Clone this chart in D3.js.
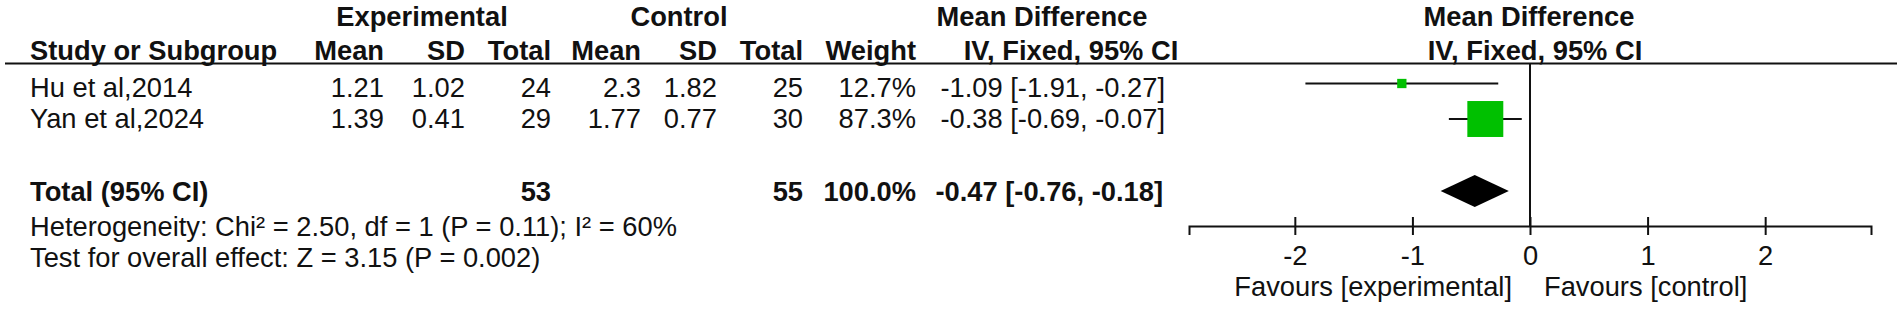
<!DOCTYPE html>
<html>
<head>
<meta charset="utf-8">
<script src="https://cdn.jsdelivr.net/npm/d3@7"></script>
<style>
  body { margin: 0; background: #fff; }
  svg text { font-family: "Liberation Sans", Arial, sans-serif; font-size: 27.3px; fill: #111; }
  .b { font-weight: bold; }
</style>
</head>
<body>
<div id="forest"></div>
<script>
// study rows
const studies = ["Hu et al,2014", "Yan et al,2024"];
const expMean = [1.21, 1.39];
const expSD = [1.02, 0.41];
const expN = [24, 29];
const ctlMean = [2.3, 1.77];
const ctlSD = [1.82, 0.77];
const ctlN = [25, 30];
const weights = [12.7, 87.3];
const md = [-1.09, -0.38];
const ciLow = [-1.91, -0.69];
const ciHigh = [-0.27, -0.07];

// pooled result
const totalLabel = "Total (95% CI)";
const totalN = [53, 55];
const totalWeight = 100.0;
const totalMd = [-0.47, -0.76, -0.18];
const footNotes = [
  "Heterogeneity: Chi\u00b2 = 2.50, df = 1 (P = 0.11); I\u00b2 = 60%",
  "Test for overall effect: Z = 3.15 (P = 0.002)"
];

// axis
const axisTicks = [-2, -1, 0, 1, 2];
const axisDomain = [-2.9, 2.9];
const favours = ["Favours [experimental]", "Favours [control]"];

const W = 1902, H = 309;

const svg = d3.select("#forest")
  .append("svg")
  .attr("width", W)
  .attr("height", H)
  .attr("viewBox", [0, 0, W, H]);

// column right edges for the table part
const cols = {
  name: 30, expMean: 384, expSD: 465, expN: 551,
  ctlMean: 641, ctlSD: 717, ctlN: 803, weight: 916, ci: 1165
};

// scales
const x = d3.scaleLinear().domain(axisDomain).range([1189, 1871]);
const rowY = d3.scaleLinear().domain([0, 1]).range([97, 127.5]);     // text baselines
const markY = d3.scaleLinear().domain([0, 1]).range([83.5, 119]);    // CI line / box centre
const boxSize = d3.scaleLinear().domain([0, 100]).range([4.75, 40.5]);

// plain hyphen like the reference, not the unicode minus of d3.format
const f2 = v => v.toFixed(2);
const ciText = (m, lo, hi) => `${f2(m)} [${f2(lo)}, ${f2(hi)}]`;

// headers
const head1 = 26, head2 = 60;
const txt = (t, xx, yy, anchor, bold) => svg.append("text")
  .attr("x", xx).attr("y", yy)
  .attr("text-anchor", anchor)
  .attr("class", bold ? "b" : null)
  .text(t);

txt("Experimental", 422, head1, "middle", true);
txt("Control", 679, head1, "middle", true);
txt("Mean Difference", 1042, head1, "middle", true);
txt("Mean Difference", 1529, head1, "middle", true);

txt("Study or Subgroup", cols.name, head2, "start", true);
txt("Mean", cols.expMean, head2, "end", true);
txt("SD", cols.expSD, head2, "end", true);
txt("Total", cols.expN, head2, "end", true);
txt("Mean", cols.ctlMean, head2, "end", true);
txt("SD", cols.ctlSD, head2, "end", true);
txt("Total", cols.ctlN, head2, "end", true);
txt("Weight", cols.weight, head2, "end", true);
txt("IV, Fixed, 95% CI", 1071, head2, "middle", true);
txt("IV, Fixed, 95% CI", 1535, head2, "middle", true);

// header rule
svg.append("line")
  .attr("x1", 5).attr("x2", 1897)
  .attr("y1", 63.5).attr("y2", 63.5)
  .attr("stroke", "#111").attr("stroke-width", 2);

// study rows of the table
const rows = studies.map((s, i) => ({
  name: s, em: expMean[i], es: expSD[i], en: expN[i],
  cm: ctlMean[i], cs: ctlSD[i], cn: ctlN[i],
  w: weights[i], md: md[i], lo: ciLow[i], hi: ciHigh[i], i
}));

const rowG = svg.selectAll("g.row")
  .data(rows)
  .join("g")
  .attr("class", "row")
  .attr("transform", d => `translate(0, ${rowY(d.i)})`);

rowG.append("text").attr("x", cols.name).text(d => d.name);
rowG.append("text").attr("x", cols.expMean).attr("text-anchor", "end").text(d => d.em);
rowG.append("text").attr("x", cols.expSD).attr("text-anchor", "end").text(d => d.es);
rowG.append("text").attr("x", cols.expN).attr("text-anchor", "end").text(d => d.en);
rowG.append("text").attr("x", cols.ctlMean).attr("text-anchor", "end").text(d => d.cm);
rowG.append("text").attr("x", cols.ctlSD).attr("text-anchor", "end").text(d => d.cs);
rowG.append("text").attr("x", cols.ctlN).attr("text-anchor", "end").text(d => d.cn);
rowG.append("text").attr("x", cols.weight).attr("text-anchor", "end").text(d => d.w.toFixed(1) + "%");
rowG.append("text").attr("x", cols.ci).attr("text-anchor", "end").text(d => ciText(d.md, d.lo, d.hi));

// total row
const totalY = 200.5;
txt(totalLabel, cols.name, totalY, "start", true);
txt(totalN[0], cols.expN, totalY, "end", true);
txt(totalN[1], cols.ctlN, totalY, "end", true);
txt(totalWeight.toFixed(1) + "%", cols.weight, totalY, "end", true);
txt(ciText(...totalMd), 1163, totalY, "end", true);

// footnotes
txt(footNotes[0], cols.name, 236, "start", false);
txt(footNotes[1], cols.name, 267, "start", false);

// plot: axis
const axisY = 226;
const axis = d3.axisBottom(x)
  .tickValues(axisTicks)
  .tickSizeOuter(0)
  .tickSize(9);

const axisG = svg.append("g")
  .attr("transform", `translate(0, ${axisY})`)
  .call(axis)
  .attr("font-size", null)
  .attr("font-family", null);

axisG.select(".domain").attr("stroke", "#111").attr("stroke-width", 2);
axisG.selectAll(".tick line")
  .attr("y1", -9).attr("y2", 9)
  .attr("stroke", "#111").attr("stroke-width", 2);
axisG.selectAll(".tick text")
  .attr("y", 39).attr("dy", null)
  .attr("fill", null)
  .text(d => d < 0 ? "-" + Math.abs(d) : d);

// zero line
svg.append("line")
  .attr("x1", x(0)).attr("x2", x(0))
  .attr("y1", 64).attr("y2", axisY)
  .attr("stroke", "#111").attr("stroke-width", 2);

// favours labels
txt(favours[0], x(0) - 18, 296, "end", false);
txt(favours[1], x(0) + 14, 296, "start", false);

// CI lines and boxes
const markG = svg.selectAll("g.mark")
  .data(rows)
  .join("g")
  .attr("class", "mark")
  .attr("transform", d => `translate(0, ${markY(d.i)})`);

markG.append("line")
  .attr("x1", d => x(d.lo)).attr("x2", d => x(d.hi))
  .attr("stroke", "#111").attr("stroke-width", 2);

markG.append("rect")
  .attr("x", d => x(d.md) - boxSize(d.w) / 2)
  .attr("y", d => -boxSize(d.w) / 2)
  .attr("width", d => boxSize(d.w))
  .attr("height", d => boxSize(d.w))
  .attr("fill", "#00c000");

// pooled diamond
const dY = 191, dH = 16;
svg.append("path")
  .attr("d", d3.line()([
    [x(totalMd[1]), dY], [x(totalMd[0]), dY - dH],
    [x(totalMd[2]), dY], [x(totalMd[0]), dY + dH]
  ]) + "Z")
  .attr("fill", "#000");
</script>
</body>
</html>
